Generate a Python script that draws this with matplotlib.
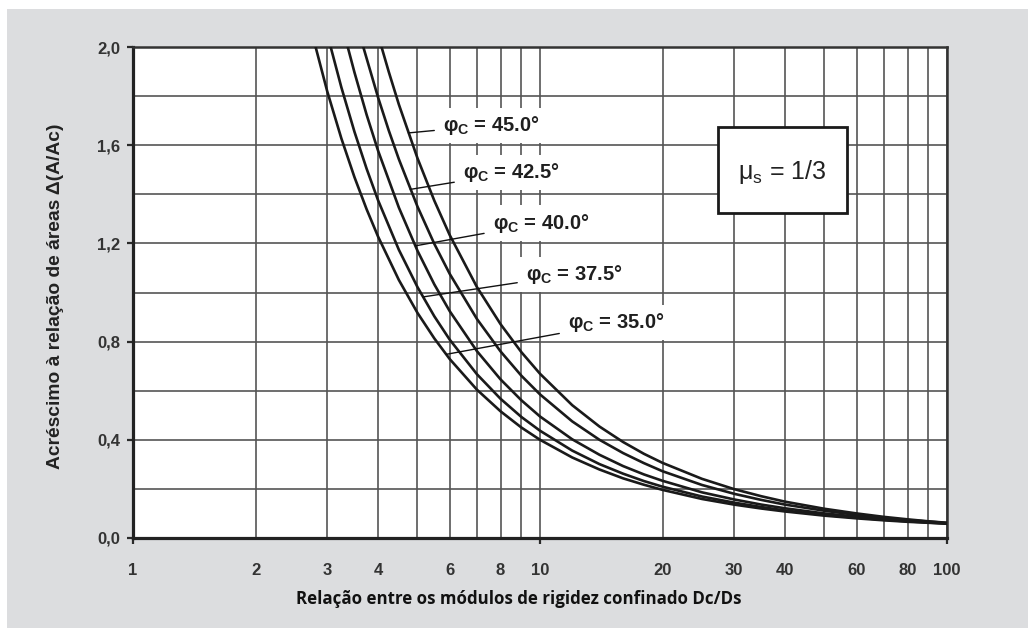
import numpy as np
import matplotlib.pyplot as plt
from matplotlib.patches import Rectangle
from matplotlib.ticker import FixedLocator, FuncFormatter

plt.rcParams['font.family'] = ['Liberation Sans', 'DejaVu Sans']
plt.rcParams['font.weight'] = 'bold'

## Data (x = Dc/Ds, y = increase of area ratio)
x_35 = [2.81, 3, 3.25, 3.5, 3.75, 4, 4.5, 5, 5.5, 6, 7, 8, 9, 10, 12, 14, 16, 18, 20,
        25, 30, 35, 40, 50, 60, 70, 80, 90, 100]
y_35 = [2.0, 1.820, 1.628, 1.470, 1.339, 1.228, 1.051, 0.917, 0.813, 0.729, 0.604, 0.516,
        0.450, 0.400, 0.328, 0.279, 0.243, 0.217, 0.196, 0.159, 0.136, 0.120, 0.108,
        0.091, 0.080, 0.072, 0.066, 0.062, 0.058]

x_375 = [3.06, 3.25, 3.5, 3.75, 4, 4.5, 5, 5.5, 6, 7, 8, 9, 10, 12, 14, 16, 18, 20,
         25, 30, 35, 40, 50, 60, 70, 80, 90, 100]
y_375 = [2.0, 1.836, 1.655, 1.504, 1.376, 1.174, 1.022, 0.903, 0.808, 0.667, 0.567, 0.493,
         0.437, 0.356, 0.301, 0.262, 0.232, 0.209, 0.169, 0.144, 0.126, 0.112, 0.094,
         0.083, 0.074, 0.068, 0.063, 0.059]

x_40 = [3.37, 3.5, 3.75, 4, 4.5, 5, 5.5, 6, 7, 8, 9, 10, 12, 14, 16, 18, 20,
        25, 30, 35, 40, 50, 60, 70, 80, 90, 100]
y_40 = [2.0, 1.897, 1.724, 1.578, 1.346, 1.170, 1.033, 0.924, 0.761, 0.646, 0.561, 0.495,
        0.402, 0.339, 0.293, 0.259, 0.233, 0.186, 0.157, 0.136, 0.121, 0.100, 0.087,
        0.077, 0.070, 0.064, 0.060]

x_425 = [3.68, 4, 4.25, 4.5, 5, 5.5, 6, 7, 8, 9, 10, 12, 14, 16, 18, 20,
         25, 30, 35, 40, 50, 60, 70, 80, 90, 100]
y_425 = [2.0, 1.795, 1.660, 1.543, 1.350, 1.198, 1.076, 0.892, 0.760, 0.661, 0.585, 0.475,
         0.400, 0.346, 0.305, 0.272, 0.216, 0.180, 0.155, 0.136, 0.111, 0.094, 0.082,
         0.073, 0.067, 0.061]

x_45 = [4.08, 4.25, 4.5, 5, 5.5, 6, 7, 8, 9, 10, 12, 14, 16, 18, 20,
        25, 30, 35, 40, 50, 60, 70, 80, 90, 100]
y_45 = [2.0, 1.899, 1.766, 1.547, 1.374, 1.234, 1.022, 0.871, 0.757, 0.669, 0.541, 0.454,
        0.391, 0.343, 0.306, 0.241, 0.199, 0.170, 0.148, 0.119, 0.100, 0.086, 0.076,
        0.068, 0.062]

curves_x = [x_35, x_375, x_40, x_425, x_45]
curves_y = [y_35, y_375, y_40, y_425, y_45]
phi_values = ['35.0', '37.5', '40.0', '42.5', '45.0']

# point on each curve where the label leader starts
anchor_x = [5.88, 5.16, 4.94, 4.80, 4.75]
anchor_y = [0.748, 0.982, 1.19, 1.42, 1.65]

x_major = [1, 10, 100]
x_minor = [2, 3, 4, 5, 6, 7, 8, 9, 20, 30, 40, 50, 60, 70, 80, 90]
x_minor_labeled = [2, 3, 4, 6, 8, 20, 30, 40, 60, 80]
y_major = [0.0, 0.4, 0.8, 1.2, 1.6, 2.0]
y_minor = [0.2, 0.6, 1.0, 1.4, 1.8]

## Figure
W, H = 1028, 628
fig = plt.figure(figsize=(W/100, H/100), dpi=100)
fig.patch.set_facecolor('white')
fig.add_artist(Rectangle((7/W, 0), 1 - 7/W, (H - 9)/H, transform=fig.transFigure,
                         fc='#dcdddf', ec='none', zorder=-10))

ax = fig.add_axes([133/W, 90/H, 814/W, 491/H])
ax.set_facecolor('white')
ax.set_xscale('log')
ax.set_xlim(1, 100)
ax.set_ylim(0, 2)

for cx, cy in zip(curves_x, curves_y):
    ax.plot(cx, cy, color='#1a1a1a', lw=1.9, solid_joinstyle='round', zorder=3)

## ticks
ax.xaxis.set_major_locator(FixedLocator(x_major))
ax.xaxis.set_minor_locator(FixedLocator(x_minor))
ax.xaxis.set_major_formatter(FuncFormatter(lambda v, p: '%g' % v))
ax.xaxis.set_minor_formatter(FuncFormatter(lambda v, p: '%g' % v if round(v) in x_minor_labeled else ''))
ax.yaxis.set_major_locator(FixedLocator(y_major))
ax.yaxis.set_minor_locator(FixedLocator(y_minor))
ax.yaxis.set_major_formatter(FuncFormatter(lambda v, p: ('%.1f' % v).replace('.', ',')))

ax.tick_params(axis='both', which='major', length=4.3, width=1.6, color='#2a2a2a',
               labelsize=12, labelcolor='#333333')
ax.tick_params(axis='x', which='major', pad=14)
ax.tick_params(axis='x', which='minor', length=0, pad=18.3, labelsize=12, labelcolor='#333333')
ax.tick_params(axis='y', which='major', pad=5)
ax.tick_params(axis='y', which='minor', length=0)

ax.grid(True, which='both', color='#555555', lw=1.2)
ax.set_axisbelow(True)

for side in ['left', 'bottom']:
    ax.spines[side].set_linewidth(2.3)
    ax.spines[side].set_color('#222222')
for side in ['top', 'right']:
    ax.spines[side].set_linewidth(1.8)
    ax.spines[side].set_color('#333333')

## labels
ax.set_ylabel('Acréscimo à relação de áreas Δ(A/Ac)', fontsize=13.9, fontweight='bold',
              color='#222222')
ax.yaxis.set_label_coords(-0.085, 0.493)
ax.set_xlabel('Relação entre os módulos de rigidez confinado Dc/Ds', fontsize=12.2,
              fontweight='bold', family=['Open Sans', 'DejaVu Sans'], color='#111111')
ax.xaxis.set_label_coords(0.474, -0.105)

## curve labels
text_x = [11.72, 9.24, 7.66, 6.47, 5.78]
text_y = [0.876, 1.075, 1.283, 1.487, 1.682]
for phi, axp, ayp, tx, ty in zip(phi_values, anchor_x, anchor_y, text_x, text_y):
    ax.annotate('φ$_\\mathregular{C}$ = ' + phi + '°', xy=(axp, ayp), xytext=(tx, ty),
                ha='left', va='center', fontsize=14.5, fontweight='bold', color='#1f1f1f',
                bbox=dict(boxstyle='square,pad=0.3', fc='white', ec='none'),
                arrowprops=dict(arrowstyle='-', color='#111111', lw=1.0, shrinkA=2, shrinkB=0),
                zorder=5)

## mu box
ax.add_patch(Rectangle((0.7187, 0.662), 0.158, 0.175, transform=ax.transAxes,
                       fc='white', ec='#1a1a1a', lw=2.0, zorder=6))
ax.text(0.797, 0.745, 'μ$_\\mathregular{s}$ = 1/3', transform=ax.transAxes, ha='center',
        va='center', fontsize=18, fontweight='normal', color='#222222', zorder=7)

fig.savefig('out.png', dpi=100, facecolor=fig.get_facecolor())
